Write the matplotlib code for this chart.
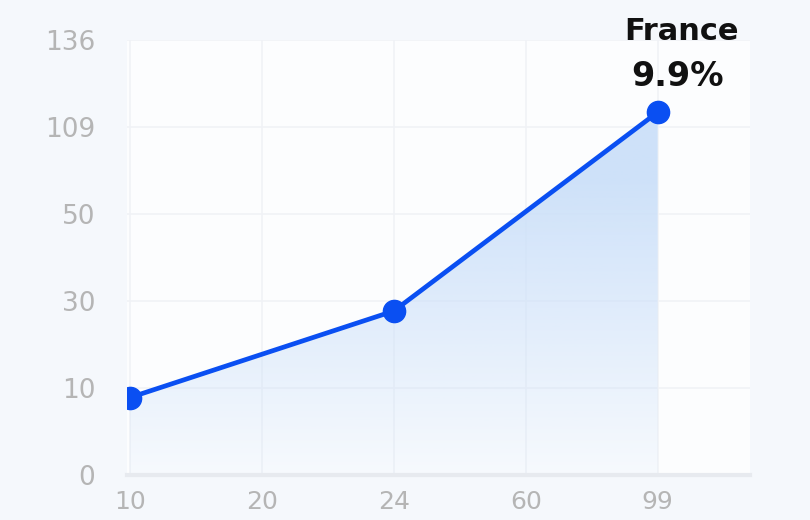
import numpy as np
import matplotlib
matplotlib.use('Agg')
import matplotlib.pyplot as plt

plt.rcParams['font.family'] = ['DejaVu Sans']

# tick labels as shown (axes are evenly spaced between labels)
x_ticks = [10, 20, 24, 60, 99]
y_ticks = [0, 10, 30, 50, 109, 136]

# the series
x_vals = [10, 24, 99]
y_vals = [8.9, 27.7, 113.6]

label_name = 'France'
label_value = '9.9%'


def even_scale(ticks):
    # piecewise linear scale so that the listed ticks are evenly spaced
    t = np.array(ticks, float)
    idx = np.arange(len(t), dtype=float)

    def fwd(v):
        v = np.asarray(v, float)
        out = np.interp(v, t, idx)
        out = np.where(v > t[-1], idx[-1] + (v - t[-1]) / (t[-1] - t[-2]), out)
        out = np.where(v < t[0], (v - t[0]) / (t[1] - t[0]), out)
        return out

    def inv(p):
        p = np.asarray(p, float)
        out = np.interp(p, idx, t)
        out = np.where(p > idx[-1], t[-1] + (p - idx[-1]) * (t[-1] - t[-2]), out)
        out = np.where(p < 0, t[0] + p * (t[1] - t[0]), out)
        return out

    return fwd, inv


fig = plt.figure(figsize=(8.1, 5.2), dpi=100)
fig.patch.set_facecolor('#f5f8fc')
ax = fig.add_axes([0.157, 0.0865, 0.769, 0.8365])
ax.set_facecolor('#fcfdfe')

ax.set_xscale('function', functions=even_scale(x_ticks))
ax.set_yscale('function', functions=even_scale(y_ticks))
ax.set_xlim(9.8, 126.3)
ax.set_ylim(0, 136)

ax.set_xticks(x_ticks)
ax.set_xticklabels([str(v) for v in x_ticks])
ax.set_yticks(y_ticks)
ax.set_yticklabels([str(v) for v in y_ticks])
ax.tick_params(length=0, labelsize=19, colors='#b5b5b5')
ax.tick_params(axis='y', pad=23)
ax.tick_params(axis='x', pad=11, labelsize=18)

ax.grid(True, color='#f0f2f6', lw=1.1)
ax.set_axisbelow(True)
for s in ['top', 'right', 'left']:
    ax.spines[s].set_visible(False)
ax.spines['bottom'].set_color('#e7eaef')
ax.spines['bottom'].set_linewidth(3)

# gradient area under the line
poly = ax.fill_between(x_vals, y_vals, 0, color='none', lw=0)
yy = np.linspace(0, 1, 256)
alpha = np.clip(0.12 + 1.3 * yy, 0, 1)
rgba = np.zeros((256, 1, 4))
rgba[:, 0, 0] = 0.80
rgba[:, 0, 1] = 0.88
rgba[:, 0, 2] = 0.98
rgba[:, 0, 3] = alpha * 0.95
img = ax.imshow(rgba, extent=[0, 1, 0, 1], origin='lower', aspect='auto',
                transform=ax.transAxes, zorder=1)
img.set_clip_path(poly.get_paths()[0], transform=ax.transData)

ax.plot(x_vals, y_vals, color='#0a4ff2', lw=3.4, marker='o', ms=16,
        zorder=3, solid_capstyle='round')

ax.annotate(label_value, xy=(x_vals[-1], y_vals[-1]), xytext=(14, 14),
            textcoords='offset points', ha='center', va='bottom',
            fontsize=24, fontweight='bold', color='#111111', annotation_clip=False)
ax.annotate(label_name, xy=(x_vals[-1], y_vals[-1]), xytext=(17, 48),
            textcoords='offset points', ha='center', va='bottom',
            fontsize=22, fontweight='bold', color='#111111', annotation_clip=False)

fig.savefig('out.png', dpi=100, facecolor=fig.get_facecolor())
